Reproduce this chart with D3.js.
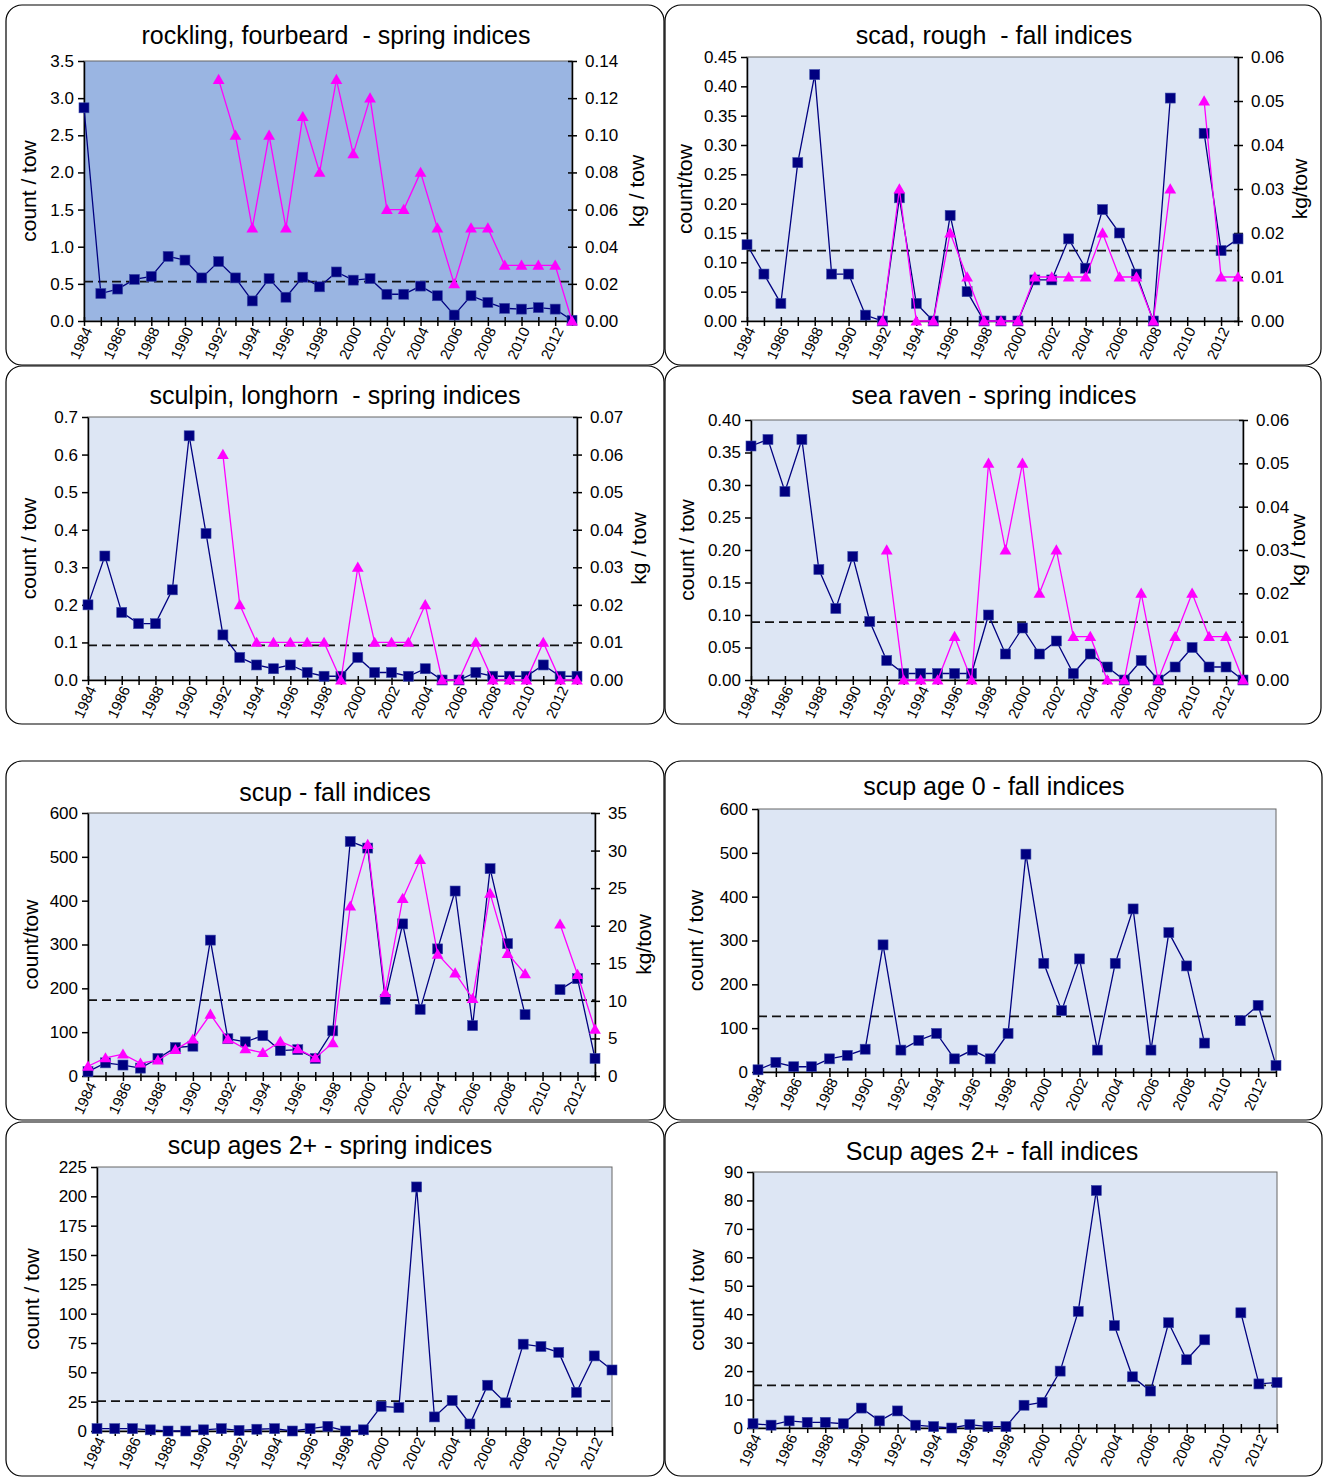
<!DOCTYPE html>
<html>
<head>
<meta charset="utf-8">
<script src="https://cdn.jsdelivr.net/npm/d3@7"></script>
<style>
  body { margin: 0; background: #fff; }
  svg text { font-family: "Liberation Sans", Arial, sans-serif; fill: #000; }
</style>
</head>
<body>
<div id="container"></div>
<script>
/* DATA */
const years = [1984, 1985, 1986, 1987, 1988, 1989, 1990, 1991, 1992, 1993,
  1994, 1995, 1996, 1997, 1998, 1999, 2000, 2001, 2002, 2003,
  2004, 2005, 2006, 2007, 2008, 2009, 2010, 2011, 2012, 2013];

// count / tow
const rocklingCount = [2.87, 0.37, 0.43, 0.56, 0.60, 0.87, 0.82, 0.58, 0.80, 0.58,
  0.27, 0.57, 0.32, 0.59, 0.46, 0.66, 0.55, 0.57, 0.36, 0.36,
  0.47, 0.34, 0.08, 0.34, 0.25, 0.17, 0.16, 0.18, 0.16, 0.01];
const scadCount = [0.13, 0.08, 0.03, 0.27, 0.42, 0.08, 0.08, 0.01, 0.00, 0.21,
  0.03, 0.00, 0.18, 0.05, 0.00, 0.00, 0.00, 0.07, 0.07, 0.14,
  0.09, 0.19, 0.15, 0.08, 0.00, 0.38, null, 0.32, 0.12, 0.14];
const sculpinCount = [0.20, 0.33, 0.18, 0.15, 0.15, 0.24, 0.65, 0.39, 0.12, 0.06,
  0.04, 0.03, 0.04, 0.02, 0.01, 0.01, 0.06, 0.02, 0.02, 0.01,
  0.03, 0.00, 0.00, 0.02, 0.01, 0.01, 0.01, 0.04, 0.01, 0.01];
const ravenCount = [0.36, 0.37, 0.29, 0.37, 0.17, 0.11, 0.19, 0.09, 0.03, 0.01,
  0.01, 0.01, 0.01, 0.01, 0.10, 0.04, 0.08, 0.04, 0.06, 0.01,
  0.04, 0.02, 0.00, 0.03, 0.00, 0.02, 0.05, 0.02, 0.02, 0.00];
const scupCount = [10, 30, 25, 18, 40, 65, 68, 310, 85, 78,
  92, 58, 60, 40, 103, 535, 520, 175, 347, 152,
  290, 422, 115, 473, 302, 140, null, 197, 222, 40];
const scup0Count = [5, 22, 12, 12, 30, 38, 52, 290, 50, 72,
  88, 30, 50, 30, 88, 497, 248, 140, 258, 50,
  248, 372, 50, 318, 242, 66, null, 117, 152, 15];
const scup2SpringCount = [2, 2, 2, 1, 0, 0, 1, 2, 0.5, 1.5,
  2, 0, 2, 4, 0, 1, 21, 20, 208, 12,
  26, 6, 39, 24, 74, 72, 67, 33, 64, 52];
const scup2FallCount = [1.5, 1, 2.5, 2, 2, 1.5, 7, 2.5, 6, 1,
  0.5, 0, 1.2, 0.5, 0.5, 8, 9, 20, 41, 83.5,
  36, 18, 13, 37, 24, 31, null, 40.5, 15.5, 16];

// kg / tow
const rocklingKg = [null, null, null, null, null, null, null, null, 0.13, 0.10,
  0.05, 0.10, 0.05, 0.11, 0.08, 0.13, 0.09, 0.12, 0.06, 0.06,
  0.08, 0.05, 0.02, 0.05, 0.05, 0.03, 0.03, 0.03, 0.03, 0.00];
const scadKg = [null, null, null, null, null, null, null, null, 0.00, 0.03,
  0.00, 0.00, 0.02, 0.01, 0.00, 0.00, 0.00, 0.01, 0.01, 0.01,
  0.01, 0.02, 0.01, 0.01, 0.00, 0.03, null, 0.05, 0.01, 0.01];
const sculpinKg = [null, null, null, null, null, null, null, null, 0.06, 0.02,
  0.01, 0.01, 0.01, 0.01, 0.01, 0.00, 0.03, 0.01, 0.01, 0.01,
  0.02, 0.00, 0.00, 0.01, 0.00, 0.00, 0.00, 0.01, 0.00, 0.00];
const ravenKg = [null, null, null, null, null, null, null, null, 0.03, 0.00,
  0.00, 0.00, 0.01, 0.00, 0.05, 0.03, 0.05, 0.02, 0.03, 0.01,
  0.01, 0.00, 0.00, 0.02, 0.00, 0.01, 0.02, 0.01, 0.01, 0.00];
const scupKg = [1.3, 2.4, 2.9, 1.7, 2.1, 3.5, 4.9, 8.2, 4.9, 3.6,
  3.1, 4.6, 3.6, 2.4, 4.4, 22.6, 30.8, 11.1, 23.6, 28.8,
  16.2, 13.7, 10.3, 24.3, 16.3, 13.6, null, 20.2, 13.5, 6.2];

// time series mean (count / tow), one per panel
const means = [0.53, 0.12, 0.092, 0.089, 173, 127, 25.5, 15];

const titles = [
  "rockling, fourbeard  - spring indices",
  "scad, rough  - fall indices",
  "sculpin, longhorn  - spring indices",
  "sea raven - spring indices",
  "scup - fall indices",
  "scup age 0 - fall indices",
  "scup ages 2+ - spring indices",
  "Scup ages 2+ - fall indices"
];
const countLabels = ["count / tow", "count/tow", "count / tow", "count / tow",
  "count/tow", "count / tow", "count / tow", "count / tow"];
const kgLabels = ["kg / tow", "kg/tow", "kg / tow", "kg / tow", "kg/tow"];

// left axis: max, step, format ; right axis: max, step, format
const countAxes = [[3.5, 0.5, ".1f"], [0.45, 0.05, ".2f"], [0.7, 0.1, ".1f"], [0.40, 0.05, ".2f"],
  [600, 100, "d"], [600, 100, "d"], [225, 25, "d"], [90, 10, "d"]];
const kgAxes = [[0.14, 0.02, ".2f"], [0.06, 0.01, ".2f"], [0.07, 0.01, ".2f"], [0.06, 0.01, ".2f"],
  [35, 5, "d"]];

/* LAYOUT */
// box: x, y, w, h ; plot: left, right, top, bottom
const layout = [
  { box: [6, 5, 658, 360], plot: [84, 572, 61, 321], tx: 336, ty: 37, lx: 30, rx: 638 },
  { box: [665, 5, 656, 360], plot: [747, 1238, 57, 321], tx: 994, ty: 37, lx: 686, rx: 1301 },
  { box: [6, 366, 658, 358], plot: [88, 577, 417, 680], tx: 335, ty: 397, lx: 30, rx: 640 },
  { box: [665, 366, 656, 358], plot: [751, 1243, 420, 680], tx: 994, ty: 397, lx: 688, rx: 1299 },
  { box: [6, 761, 658, 359], plot: [88, 595, 813, 1076], tx: 335, ty: 794, lx: 32, rx: 645 },
  { box: [665, 761, 657, 359], plot: [758, 1276, 809, 1072], tx: 994, ty: 788, lx: 697 },
  { box: [6, 1122, 658, 354], plot: [97, 612, 1167, 1431], tx: 330, ty: 1147, lx: 33 },
  { box: [665, 1122, 657, 354], plot: [753, 1277, 1172, 1428], tx: 992, ty: 1153, lx: 698 }
];

const counts = [rocklingCount, scadCount, sculpinCount, ravenCount,
  scupCount, scup0Count, scup2SpringCount, scup2FallCount];
const kgs = [rocklingKg, scadKg, sculpinKg, ravenKg, scupKg];
const plotFills = ["#9ab5e2", "#dde6f4", "#dde6f4", "#dde6f4",
  "#dde6f4", "#dde6f4", "#dde6f4", "#dde6f4"];

const navy = "#000080",
  magenta = "#ff00ff";

/* SVG */
const svg = d3.select("#container")
  .append("svg")
  .attr("width", 1324)
  .attr("height", 1477);

const tickRange = (max, step) => {
  const n = Math.round(max / step);
  return d3.range(n + 1).map(i => +(i * step).toFixed(4));
};

layout.forEach((L, i) => {
  const [bx, by, bw, bh] = L.box;
  const [left, right, top, bottom] = L.plot;
  const g = svg.append("g");

  // rounded frame
  g.append("rect")
    .attr("x", bx).attr("y", by)
    .attr("width", bw).attr("height", bh)
    .attr("rx", 16)
    .attr("fill", "#fff")
    .attr("stroke", "#000")
    .attr("stroke-width", 1.2);

  // plot area
  g.append("rect")
    .attr("x", left).attr("y", top)
    .attr("width", right - left).attr("height", bottom - top)
    .attr("fill", plotFills[i])
    .attr("stroke", "#666")
    .attr("stroke-width", 1);

  /* SCALES */
  const xScale = d3.scaleLinear()
    .domain([years[0], years[years.length - 1]])
    .range([left, right]);

  const [cMax, cStep, cFmt] = countAxes[i];
  const yScale = d3.scaleLinear()
    .domain([0, cMax])
    .range([bottom, top]);

  const kg = kgs[i];
  let kScale = null;
  if (kg) {
    kScale = d3.scaleLinear()
      .domain([0, kgAxes[i][0]])
      .range([bottom, top]);
  }

  /* AXES */
  const yAxis = d3.axisLeft(yScale)
    .tickValues(tickRange(cMax, cStep))
    .tickFormat(d3.format(cFmt))
    .tickSizeInner(6)
    .tickSizeOuter(0)
    .tickPadding(4);
  const yG = g.append("g")
    .attr("transform", `translate(${left}, 0)`)
    .call(yAxis);
  yG.selectAll("text").style("font-size", "17px");

  if (kScale) {
    const [kMax, kStep, kFmt] = kgAxes[i];
    const kAxis = d3.axisRight(kScale)
      .tickValues(tickRange(kMax, kStep))
      .tickFormat(d3.format(kFmt))
      .tickSizeInner(5)
      .tickSizeOuter(0)
      .tickPadding(8);
    const kG = g.append("g")
      .attr("transform", `translate(${right}, 0)`)
      .call(kAxis);
    kG.selectAll(".tick line").attr("x1", -4);
    kG.selectAll("text").style("font-size", "17px");
  }

  const xAxis = d3.axisBottom(xScale)
    .tickValues(years)
    .tickFormat("")
    .tickSizeInner(5)
    .tickSizeOuter(0);
  const xG = g.append("g")
    .attr("transform", `translate(0, ${bottom})`)
    .call(xAxis);
  xG.selectAll(".tick line").attr("y1", -4);

  g.selectAll(".domain, .tick line")
    .attr("stroke", "#000")
    .attr("stroke-width", 1.5);

  // rotated year labels
  g.append("g")
    .selectAll("text")
    .data(years.filter(d => d % 2 === 0))
    .join("text")
    .attr("transform", d => `translate(${xScale(d) + 4}, ${bottom + 7}) rotate(-65)`)
    .attr("text-anchor", "end")
    .attr("dy", "0.35em")
    .style("font-size", "15px")
    .text(d => d);

  /* TEXTS */
  g.append("text")
    .attr("x", L.tx).attr("y", L.ty)
    .attr("text-anchor", "middle")
    .attr("dominant-baseline", "middle")
    .style("font-size", "25px")
    .style("white-space", "pre")
    .text(titles[i]);

  const midY = (top + bottom) / 2;
  g.append("text")
    .attr("transform", `translate(${L.lx}, ${midY}) rotate(-90)`)
    .attr("text-anchor", "middle")
    .attr("dominant-baseline", "middle")
    .style("font-size", "21px")
    .text(countLabels[i]);

  if (kScale) {
    g.append("text")
      .attr("transform", `translate(${L.rx}, ${midY}) rotate(-90)`)
      .attr("text-anchor", "middle")
      .attr("dominant-baseline", "middle")
      .style("font-size", "21px")
      .text(kgLabels[i]);
  }

  /* MEAN LINE */
  g.append("line")
    .attr("x1", xScale(years[0])).attr("x2", xScale(years[years.length - 1]))
    .attr("y1", yScale(means[i])).attr("y2", yScale(means[i]))
    .attr("stroke", "#111")
    .attr("stroke-width", 1.7)
    .attr("stroke-dasharray", "9,5");

  /* COUNT SERIES */
  const countData = years.map((yr, j) => ({ yr, v: counts[i][j] }));
  const countLine = d3.line()
    .defined(d => d.v !== null)
    .x(d => xScale(d.yr))
    .y(d => yScale(d.v));

  g.append("path")
    .datum(countData)
    .attr("d", countLine)
    .attr("fill", "none")
    .attr("stroke", navy)
    .attr("stroke-width", 1.3);

  g.selectAll(".sq")
    .data(countData.filter(d => d.v !== null))
    .join("rect")
    .attr("class", "sq")
    .attr("x", d => xScale(d.yr) - 5)
    .attr("y", d => yScale(d.v) - 5)
    .attr("width", 10)
    .attr("height", 10)
    .attr("fill", navy)
    .attr("stroke", "#3a4aa8")
    .attr("stroke-width", 0.6);

  /* WEIGHT SERIES */
  if (kScale) {
    const kgData = years.map((yr, j) => ({ yr, v: kg[j] }));
    const kgLine = d3.line()
      .defined(d => d.v !== null)
      .x(d => xScale(d.yr))
      .y(d => kScale(d.v));

    g.append("path")
      .datum(kgData)
      .attr("d", kgLine)
      .attr("fill", "none")
      .attr("stroke", magenta)
      .attr("stroke-width", 1.3);

    const tri = d3.symbol().type(d3.symbolTriangle).size(60);
    g.selectAll(".tri")
      .data(kgData.filter(d => d.v !== null))
      .join("path")
      .attr("class", "tri")
      .attr("d", tri)
      .attr("transform", d => `translate(${xScale(d.yr)}, ${kScale(d.v) + 1})`)
      .attr("fill", magenta);
  }
});
</script>
</body>
</html>
